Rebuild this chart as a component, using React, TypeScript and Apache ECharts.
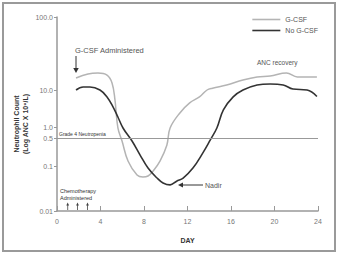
import React, { useEffect, useRef } from "react";
import * as echarts from "echarts";

// ---- data ----
const gcsfDays = [1.75, 2.85, 3.77, 4.6, 5.06, 5.33, 5.6, 5.98, 6.53, 7.36, 7.9, 8.37, 8.83, 9.47, 10.1, 10.4, 11.3, 12.2, 13.1, 13.8, 14.3, 15.6, 17.1, 18.4, 19.6, 21.1, 22.1, 23.9];
const gcsfAnc = [14.6, 16.6, 17.1, 16.0, 12.5, 5.4, 0.94, 0.42, 0.133, 0.063, 0.057, 0.06, 0.077, 0.133, 0.33, 0.94, 2.4, 4.5, 6.5, 10, 10.6, 11.7, 13.7, 15.1, 15.6, 17.1, 15.1, 15.1];

const noGcsfDays = [1.75, 2.4, 3.03, 3.95, 4.6, 5.15, 5.6, 6.07, 6.9, 7.63, 8.37, 9.2, 9.75, 10.4, 11.0, 11.6, 12.5, 13.4, 14.1, 14.7, 15.3, 16.2, 17.1, 18.4, 19.6, 20.8, 21.7, 23.0, 23.9];
const noGcsfAnc = [10, 11, 11, 10, 6.5, 3.5, 1.86, 0.94, 0.42, 0.19, 0.09, 0.054, 0.042, 0.038, 0.046, 0.054, 0.09, 0.21, 0.45, 0.94, 2.9, 6.5, 10, 11.7, 12.1, 11.7, 10.3, 10, 6.7];

const yTicks = [0.01, 0.1, 0.5, 1, 10, 100];
const yTickLabels = ["0.01", "0.1", "0.5", "1.0", "10.0", "100.0"];
const grade4Level = 0.5;

// the reference's (non-uniform) log axis: value -> axis units
const yScaleStops: [number, number][] = [
  [0.01, 0],
  [0.1, 45],
  [0.5, 73],
  [1, 84],
  [10, 121],
  [100, 194],
];

function yPos(v: number): number {
  const l = Math.log10(v);
  const s = yScaleStops;
  let i = 0;
  while (i < s.length - 2 && l > Math.log10(s[i + 1][0])) i++;
  const l0 = Math.log10(s[i][0]);
  const l1 = Math.log10(s[i + 1][0]);
  return s[i][1] + ((l - l0) / (l1 - l0)) * (s[i + 1][1] - s[i][1]);
}

const FONT = "Liberation Sans, Arial, sans-serif";

function arrowDown(x: number, y0: number, y1: number, head: number, color: string, w: number) {
  return [
    { type: "line", shape: { x1: x, y1: y0, x2: x, y2: y1 - head + 1 }, style: { stroke: color, lineWidth: w } },
    { type: "polygon", shape: { points: [[x - head * 0.55, y1 - head], [x + head * 0.55, y1 - head], [x, y1]] }, style: { fill: color } },
  ];
}

export default function App() {
  const ref = useRef<HTMLDivElement>(null);
  useEffect(() => {
    if (!ref.current) return;
    const chart = echarts.init(ref.current, null, { renderer: "svg" });
    const tickPos = yTicks.map(yPos);
    const labelFor = (val: number) => {
      const i = tickPos.findIndex((p) => Math.abs(p - val) < 0.01);
      return i >= 0 ? yTickLabels[i] : "";
    };
    const chemoArrows: any[] = [];
    [67.7, 77.5, 87.5].forEach((x) => {
      chemoArrows.push(
        { type: "line", shape: { x1: x, y1: 210, x2: x, y2: 205 }, style: { stroke: "#444", lineWidth: 0.8 } },
        { type: "polygon", shape: { points: [[x - 1.4, 205.5], [x + 1.4, 205.5], [x, 202.5]] }, style: { fill: "#444" } }
      );
    });
    chart.setOption({
      animation: false,
      backgroundColor: "#ffffff",
      textStyle: { fontFamily: FONT },
      grid: { left: 57, right: 22, top: 17, bottom: 45 },
      legend: {
        data: ["G-CSF", "No G-CSF"],
        orient: "vertical",
        right: 17,
        top: 10,
        icon: "rect",
        itemWidth: 28,
        itemHeight: 1.6,
        itemGap: 2,
        textStyle: { fontSize: 7, color: "#555", fontFamily: FONT, lineHeight: 9 },
      },
      xAxis: {
        type: "value",
        min: 0,
        max: 24,
        interval: 4,
        name: "DAY",
        nameLocation: "middle",
        nameGap: 26,
        nameTextStyle: { fontSize: 7, fontWeight: "bold", color: "#333", fontFamily: FONT },
        axisLine: { lineStyle: { color: "#999", width: 1.5 } },
        axisTick: { inside: true, length: 5, lineStyle: { color: "#999", width: 1 } },
        axisLabel: { fontSize: 7, color: "#777", margin: 7 },
        splitLine: { show: false },
      },
      yAxis: {
        type: "value",
        min: 0,
        max: yPos(100),
        axisLine: { show: true, lineStyle: { color: "#999", width: 1.5 } },
        axisTick: { show: true, length: 3, customValues: tickPos, lineStyle: { color: "#999" } },
        axisLabel: { fontSize: 7, color: "#777", margin: 4, customValues: tickPos, formatter: labelFor },
        splitLine: { show: false },
      },
      series: [
        {
          name: "G-CSF",
          type: "line",
          smooth: 0.4,
          showSymbol: false,
          symbol: "none",
          lineStyle: { color: "#b4b4b4", width: 1.5 },
          itemStyle: { color: "#b4b4b4" },
          data: gcsfDays.map((d, i) => [d, yPos(gcsfAnc[i])]),
          markLine: {
            silent: true,
            symbol: "none",
            lineStyle: { color: "#999", width: 1, type: "solid" },
            label: {
              show: true,
              position: "insideStartTop",
              formatter: "Grade 4 Neutropenia",
              fontSize: 5,
              color: "#333",
              distance: [2, 2],
            },
            data: [{ yAxis: yPos(grade4Level) }],
          },
          z: 2,
        },
        {
          name: "No G-CSF",
          type: "line",
          smooth: 0.4,
          showSymbol: false,
          symbol: "none",
          lineStyle: { color: "#333", width: 1.6 },
          itemStyle: { color: "#333" },
          data: noGcsfDays.map((d, i) => [d, yPos(noGcsfAnc[i])]),
          z: 3,
        },
      ],
      graphic: [
        { type: "rect", shape: { x: 3, y: 3, width: 332, height: 248 }, style: { fill: "none", stroke: "#9a9a9a", lineWidth: 2 } },
        {
          type: "text",
          x: 21,
          y: 124,
          rotation: Math.PI / 2,
          style: {
            text: "Neutrophil Count\n(Log ANC X 10⁹/L)",
            fontSize: 7,
            fontWeight: "bold",
            fill: "#333",
            align: "center",
            verticalAlign: "middle",
            lineHeight: 9,
            fontFamily: FONT,
          },
        },
        { type: "text", x: 75, y: 50, style: { text: "G-CSF Administered", fontSize: 7.5, fill: "#555", verticalAlign: "middle", fontFamily: FONT } },
        ...arrowDown(76, 56, 73, 5, "#333", 1),
        { type: "text", x: 257, y: 62, style: { text: "ANC recovery", fontSize: 6.5, fill: "#555", verticalAlign: "middle", fontFamily: FONT } },
        { type: "line", shape: { x1: 203, y1: 185, x2: 182, y2: 185 }, style: { stroke: "#333", lineWidth: 1 } },
        { type: "polygon", shape: { points: [[183, 182.5], [183, 187.5], [178, 185]] }, style: { fill: "#333" } },
        { type: "text", x: 205, y: 185, style: { text: "Nadir", fontSize: 7, fill: "#555", verticalAlign: "middle", fontFamily: FONT } },
        {
          type: "text",
          x: 60,
          y: 194.5,
          style: { text: "Chemotherapy\nAdministered", fontSize: 5.5, lineHeight: 7.5, fill: "#333", verticalAlign: "middle", fontFamily: FONT },
        },
        ...chemoArrows,
      ],
    });
    return () => chart.dispose();
  }, []);
  return <div ref={ref} style={{ width: 340, height: 256, position: "absolute", left: 0, top: 0 }} />;
}
